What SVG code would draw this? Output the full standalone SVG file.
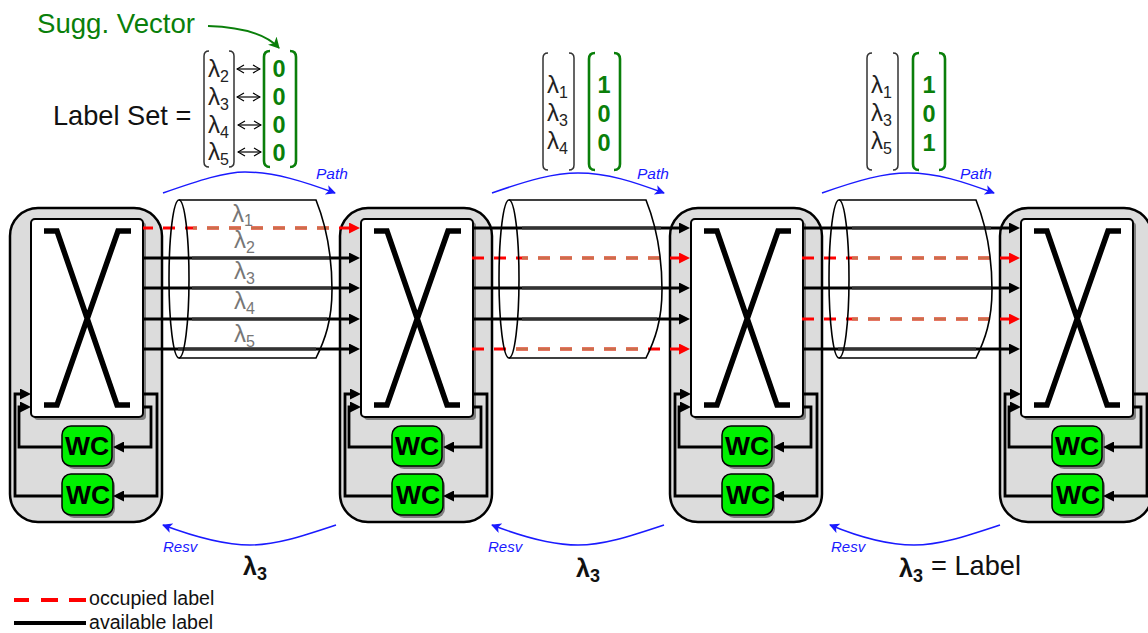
<svg xmlns="http://www.w3.org/2000/svg" xmlns:xlink="http://www.w3.org/1999/xlink" width="1148" height="633" viewBox="0 0 1148 633">
<style>
text{font-family:"Liberation Sans",Arial,sans-serif}
.chassis{fill:#dcdcdc;stroke:#000;stroke-width:2.5}
.fabric{fill:#fff;stroke:#000;stroke-width:2}
.shadow{fill:#808080}
.wc{fill:#00f000;stroke:#000;stroke-width:1.5}
.wct{font-weight:bold;font-size:26.5px;text-anchor:middle;fill:#000}
.x{fill:none;stroke:#000;stroke-width:5.5}
.fb{fill:none;stroke:#000;stroke-width:2.8}
.av{stroke:#000;stroke-width:2.8;fill:none}
.avt{stroke:#333;stroke-width:3.2;fill:none}
.oc{stroke:#f00;stroke-width:3;fill:none;stroke-dasharray:12 10}
.oct{stroke:#cc6e4a;stroke-width:3;fill:none;stroke-dasharray:12 10}
.tube{fill:none;stroke:#000;stroke-width:1.6}
.br{fill:none;stroke:#333;stroke-width:1.5}
.gbr{fill:none;stroke:#0a7f0a;stroke-width:2.6}
.l{font-size:24px;fill:#222}
.g{font-size:24px;fill:#777}
.s{font-size:16px}
.n{font-weight:bold;font-size:23.5px;fill:#0a7f0a;text-anchor:middle}
.blue{fill:none;stroke:#1a1aff;stroke-width:1.5}
.bt{font-style:italic;fill:#1a1aff}
.d{stroke:#000;stroke-width:1.2;fill:none}
.big{font-size:27.2px;fill:#111}
.leg{font-size:19.6px;fill:#111}
</style>
<defs>
<marker id="ak" markerUnits="userSpaceOnUse" markerWidth="11" markerHeight="11" refX="0" refY="5.5" orient="auto"><path d="M0,0L11,5.5L0,11z" fill="#000"/></marker>
<marker id="ar" markerUnits="userSpaceOnUse" markerWidth="11" markerHeight="11" refX="0" refY="5.5" orient="auto"><path d="M0,0L11,5.5L0,11z" fill="#f00"/></marker>
<marker id="ab" markerUnits="userSpaceOnUse" markerWidth="11" markerHeight="11" refX="9" refY="5" orient="auto"><path d="M0,0L10,5L0,10L2.5,5z" fill="#1a1aff"/></marker>
<marker id="ag" markerUnits="userSpaceOnUse" markerWidth="12" markerHeight="12" refX="10" refY="6" orient="auto"><path d="M0,0L11,6L0,12L3,6z" fill="#0a7f0a"/></marker>
<marker id="de" markerUnits="userSpaceOnUse" markerWidth="9" markerHeight="10" refX="8" refY="5" orient="auto"><path d="M1,1L8,5L1,9" fill="none" stroke="#000" stroke-width="1.2"/></marker>
<marker id="ds" markerUnits="userSpaceOnUse" markerWidth="9" markerHeight="10" refX="1" refY="5" orient="auto"><path d="M8,1L1,5L8,9" fill="none" stroke="#000" stroke-width="1.2"/></marker>
<g id="body">
<rect class="chassis" x="10" y="208" width="152" height="314" rx="28"/>
<rect class="shadow" x="34" y="222" width="112" height="198" rx="4"/>
<rect class="fabric" x="31" y="219" width="112" height="198" rx="4"/>
<path class="x" d="M44,231H57L117,405H130M131,231H118L57,405H44"/>
<rect class="shadow" x="65" y="429" width="50" height="40" rx="9"/>
<rect class="wc" x="62" y="426" width="50" height="40" rx="9"/>
<rect class="shadow" x="65" y="477" width="50" height="41" rx="9"/>
<rect class="wc" x="62" y="474" width="51" height="41" rx="9"/>
</g>
<g id="feedback">
<path class="fb" d="M62,496H15V394H20" marker-end="url(#ak)"/>
<path class="fb" d="M62,447H19V407H20" marker-end="url(#ak)"/>
<path class="fb" d="M143,394H157V496H124" marker-end="url(#ak)"/>
<path class="fb" d="M143,407H151V447H124" marker-end="url(#ak)"/>
</g>
<path id="cyl" class="tube" d="M179,200H316C326,225 332,255 332,290C332,320 325,340 316,358H179"/>
</defs>

<g id="node-1"><use xlink:href="#body" href="#body"/><text class="wct" x="87" y="455">WC</text><text class="wct" x="88" y="504">WC</text></g>
<g id="node-2" transform="translate(330 0)"><use xlink:href="#body" href="#body"/><text class="wct" x="87" y="455">WC</text><text class="wct" x="88" y="504">WC</text></g>
<g id="node-3" transform="translate(660 0)"><use xlink:href="#body" href="#body"/><text class="wct" x="87" y="455">WC</text><text class="wct" x="88" y="504">WC</text></g>
<g id="node-4" transform="translate(990 0)"><use xlink:href="#body" href="#body"/><text class="wct" x="87" y="455">WC</text><text class="wct" x="88" y="504">WC</text></g>

<g id="connectors">
<use xlink:href="#feedback" href="#feedback"/>
<use xlink:href="#feedback" href="#feedback" transform="translate(330 0)"/>
<use xlink:href="#feedback" href="#feedback" transform="translate(660 0)"/>
<use xlink:href="#feedback" href="#feedback" transform="translate(990 0)"/>

<line class="oc" x1="143" y1="228" x2="349" y2="228" stroke-dashoffset="2" marker-end="url(#ar)"/>
<line class="oct" x1="193" y1="228" x2="329" y2="228" stroke-dashoffset="8"/>
<line class="av" x1="143" y1="258" x2="349" y2="258" marker-end="url(#ak)"/>
<line class="av" x1="143" y1="288" x2="349" y2="288" marker-end="url(#ak)"/>
<line class="av" x1="143" y1="319" x2="349" y2="319" marker-end="url(#ak)"/>
<line class="av" x1="143" y1="349" x2="349" y2="349" marker-end="url(#ak)"/>
<path class="avt" d="M192,258H331M192,288H331M192,319H327M178,349H316"/>

<line class="av" x1="473" y1="228" x2="679" y2="228" marker-end="url(#ak)"/>
<line class="av" x1="473" y1="288" x2="679" y2="288" marker-end="url(#ak)"/>
<line class="av" x1="473" y1="319" x2="679" y2="319" marker-end="url(#ak)"/>
<line class="oc" x1="472" y1="258" x2="679" y2="258" marker-end="url(#ar)"/>
<line class="oc" x1="472" y1="349" x2="679" y2="349" marker-end="url(#ar)"/>
<line class="oct" x1="522" y1="258" x2="660" y2="258" stroke-dashoffset="6"/>
<line class="oct" x1="510" y1="349" x2="638" y2="349" stroke-dashoffset="16"/>
<path class="avt" d="M522,228H661M522,288H661M522,319H657"/>

<line class="av" x1="803" y1="228" x2="1009" y2="228" marker-end="url(#ak)"/>
<line class="av" x1="803" y1="288" x2="1009" y2="288" marker-end="url(#ak)"/>
<line class="av" x1="803" y1="349" x2="1009" y2="349" marker-end="url(#ak)"/>
<line class="oc" x1="802" y1="258" x2="1009" y2="258" marker-end="url(#ar)"/>
<line class="oc" x1="802" y1="319" x2="1009" y2="319" marker-end="url(#ar)"/>
<line class="oct" x1="852" y1="258" x2="990" y2="258" stroke-dashoffset="6"/>
<line class="oct" x1="852" y1="319" x2="990" y2="319" stroke-dashoffset="6"/>
<path class="avt" d="M852,228H991M852,288H991M838,349H976"/>

<path class="blue" d="M163,193C200,180 225,172 245,172C275,172 305,182 335,193" marker-end="url(#ab)"/>
<path class="blue" d="M492,193C529,180 554,173 578,173C608,173 634,182 664,193" marker-end="url(#ab)"/>
<path class="blue" d="M822,193C859,180 884,173 908,173C938,173 964,182 994,193" marker-end="url(#ab)"/>
<path class="blue" d="M336,525C300,537 275,545 250,545C225,545 195,537 163,525" marker-end="url(#ab)"/>
<path class="blue" d="M664,525C628,537 603,545 578,545C553,545 523,537 492,525" marker-end="url(#ab)"/>
<path class="blue" d="M1000,525C964,537 939,545 914,545C889,545 859,537 830,525" marker-end="url(#ab)"/>
<path d="M208,26C240,27 265,33 279,48" fill="none" stroke="#0a7f0a" stroke-width="1.8" marker-end="url(#ag)"/>
<line class="d" x1="237" y1="69" x2="260" y2="69" marker-start="url(#ds)" marker-end="url(#de)"/>
<line class="d" x1="237" y1="97" x2="260" y2="97" marker-start="url(#ds)" marker-end="url(#de)"/>
<line class="d" x1="238" y1="125" x2="261" y2="125" marker-start="url(#ds)" marker-end="url(#de)"/>
<line class="d" x1="238" y1="152" x2="261" y2="152" marker-start="url(#ds)" marker-end="url(#de)"/>
</g>

<g id="fibers">
<ellipse class="tube" cx="179" cy="279" rx="10" ry="79"/><use xlink:href="#cyl" href="#cyl"/>
<ellipse class="tube" cx="509" cy="279" rx="10" ry="79"/><use xlink:href="#cyl" href="#cyl" transform="translate(330 0)"/>
<ellipse class="tube" cx="839" cy="279" rx="10" ry="79"/><use xlink:href="#cyl" href="#cyl" transform="translate(660 0)"/>
</g>

<g id="tube-labels">
<text class="g" x="232" y="222">λ<tspan class="s" dy="4">1</tspan></text>
<text class="g" x="234" y="248">λ<tspan class="s" dy="5">2</tspan></text>
<text class="g" x="234" y="279">λ<tspan class="s" dy="5">3</tspan></text>
<text class="g" x="234" y="309">λ<tspan class="s" dy="5">4</tspan></text>
<text class="g" x="234" y="342">λ<tspan class="s" dy="5">5</tspan></text>
</g>

<g id="label-set-1">
<text x="37" y="33" font-size="27.6" fill="#0a7f0a">Sugg. Vector</text>
<text class="big" x="53" y="125">Label Set =</text>
<path class="br" d="M209,51Q204,51 204,56V162Q204,167 209,167M229,51Q234,51 234,56V162Q234,167 229,167"/>
<path class="gbr" d="M270,51Q264,51 264,57V161Q264,167 270,167M290,51Q296,51 296,57V161Q296,167 290,167"/>
<text class="l" x="208" y="77">λ<tspan class="s" dy="5">2</tspan></text>
<text class="l" x="208" y="105">λ<tspan class="s" dy="5">3</tspan></text>
<text class="l" x="208" y="133">λ<tspan class="s" dy="5">4</tspan></text>
<text class="l" x="208" y="160">λ<tspan class="s" dy="5">5</tspan></text>
<text class="n" x="279" y="77">0</text><text class="n" x="279" y="105">0</text><text class="n" x="279" y="133">0</text><text class="n" x="279" y="161">0</text>
</g>
<g id="label-set-2">
<path class="br" d="M548,53Q543,53 543,58V165Q543,170 548,170M569,53Q574,53 574,58V165Q574,170 569,170"/>
<path class="gbr" d="M595,53Q589,53 589,59V164Q589,170 595,170M614,53Q620,53 620,59V164Q620,170 614,170"/>
<text class="l" x="547" y="93">λ<tspan class="s" dy="5">1</tspan></text>
<text class="l" x="547" y="121">λ<tspan class="s" dy="5">3</tspan></text>
<text class="l" x="547" y="149">λ<tspan class="s" dy="5">4</tspan></text>
<text class="n" x="604" y="93">1</text><text class="n" x="604" y="122">0</text><text class="n" x="604" y="151">0</text>
</g>
<g id="label-set-3">
<path class="br" d="M872,53Q867,53 867,58V165Q867,170 872,170M893,53Q898,53 898,58V165Q898,170 893,170"/>
<path class="gbr" d="M919,53Q913,53 913,59V164Q913,170 919,170M939,53Q945,53 945,59V164Q945,170 939,170"/>
<text class="l" x="871" y="93">λ<tspan class="s" dy="5">1</tspan></text>
<text class="l" x="871" y="121">λ<tspan class="s" dy="5">3</tspan></text>
<text class="l" x="871" y="149">λ<tspan class="s" dy="5">5</tspan></text>
<text class="n" x="929" y="93">1</text><text class="n" x="929" y="122">0</text><text class="n" x="929" y="151">1</text>
</g>

<g id="signal-labels">
<text class="bt" x="316" y="179" font-size="15.5">Path</text>
<text class="bt" x="637" y="179" font-size="15.5">Path</text>
<text class="bt" x="960" y="179" font-size="15.5">Path</text>
<text class="bt" x="163" y="552" font-size="15">Resv</text>
<text class="bt" x="488" y="552" font-size="15">Resv</text>
<text class="bt" x="831" y="552" font-size="15">Resv</text>
<text x="243" y="575" font-size="25" font-weight="bold" fill="#111">λ<tspan font-size="18" dy="5">3</tspan></text>
<text x="576" y="577" font-size="25" font-weight="bold" fill="#111">λ<tspan font-size="18" dy="5">3</tspan></text>
<text x="899" y="577" font-size="25" font-weight="bold" fill="#111">λ<tspan font-size="18" dy="5">3</tspan></text>
<text class="big" x="931" y="575">= Label</text>
</g>

<g id="legend">
<path d="M14,600H86" stroke="#f00" stroke-width="4" stroke-dasharray="15 12 17 11 17" fill="none"/>
<path d="M14,623H86" stroke="#000" stroke-width="4" fill="none"/>
<text class="leg" x="89" y="605">occupied label</text>
<text class="leg" x="89" y="629">available label</text>
</g>
</svg>
